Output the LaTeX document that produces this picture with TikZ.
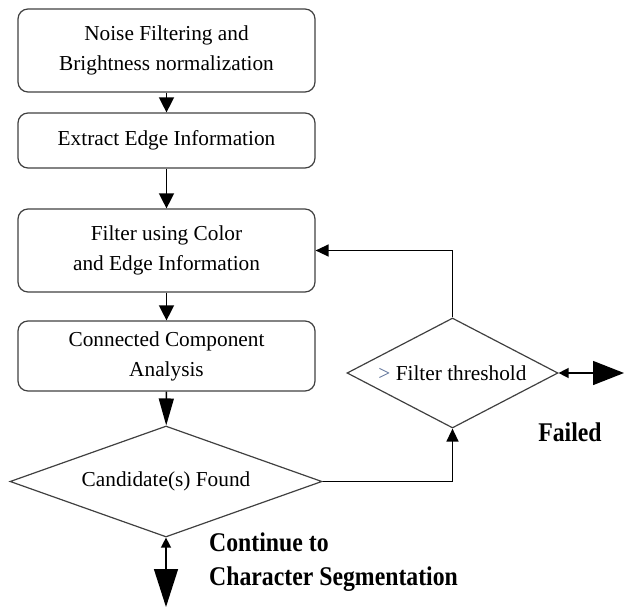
\documentclass[tikz,border=0pt]{standalone}
\usepackage{fontspec}
\setmainfont{Liberation Serif}
\newfontfamily\notefont[FakeStretch=0.88]{Liberation Serif}
\usetikzlibrary{arrows.meta,shapes.geometric,calc}

\tikzset{
  procbox/.style={draw=black!75, line width=1.2pt, rounded corners=10pt,
    minimum width=297pt, inner sep=0pt, align=center,
    font=\fontsize{21.3}{30}\selectfont},
  decision/.style={diamond, draw=black!75, line width=1.2pt, inner sep=0pt,
    font=\fontsize{21.3}{30}\selectfont},
  flow/.style={line width=1.4pt, -{Triangle[length=15pt,width=15pt]}},
  flowsmall/.style={line width=1.4pt, -{Triangle[length=13pt,width=12pt]}},
  flowbig/.style={line width=1.4pt, -{Triangle[length=27pt,width=15pt]}},
  notelabel/.style={inner sep=0pt, font=\notefont\bfseries\fontsize{27}{33}\selectfont},
}

\begin{document}
\begin{tikzpicture}[x=1pt,y=-1pt]
  \useasboundingbox (0,0) rectangle (624,607);

  % processing steps
  \node[procbox, minimum height=83pt] (b1) at (166.5,50.5)
    {Noise Filtering and\\Brightness normalization};
  \node[procbox, minimum height=55pt] (b2) at (166.5,140.5)
    {Extract Edge Information};
  \node[procbox, minimum height=83pt] (b3) at (166.5,250.5)
    {Filter using Color\\and Edge Information};
  \node[procbox, minimum height=70pt] (b4) at (166.5,356)
    {Connected Component\\Analysis};

  % decisions
  \node[decision, aspect=2.8, minimum width=312pt, minimum height=111pt]
    (d1) at (166,481.5) {Candidate(s) Found};
  \node[decision, aspect=1.9, minimum width=211pt, minimum height=110pt]
    (d2) at (452.5,373) {\textcolor[RGB]{90,110,150}{>}\ Filter threshold};

  % main flow
  \draw[flow] (b1) -- (b2);
  \draw[flow] (b2) -- (b3);
  \draw[flow] (b3) -- (b4);
  \draw[flowbig] (b4) -- (d1);

  % retry loop
  \draw[flowsmall] (d1.east) -| (d2.south);
  \draw[flowsmall] (d2.north) |- (b3.east);

  % exits
  \coordinate (failend) at (624,373);
  \coordinate (contend) at (166,607);
  \draw[line width=1.4pt,
    {Triangle[length=10pt,width=10pt]}-{Triangle[length=31pt,width=24pt]}]
    (d2.east) -- (failend);
  \draw[line width=1.4pt,
    {Triangle[length=10pt,width=10pt]}-{Triangle[length=38pt,width=24pt]}]
    (d1.south) -- (contend);

  % exit labels
  \node[notelabel, anchor=base] (failed) at (570,441.7) {Failed};
  \node[notelabel, anchor=base west] (cont1) at (209,551.7) {Continue to};
  \node[notelabel, anchor=base west] (cont2) at (209,585.5) {Character Segmentation};
\end{tikzpicture}
\end{document}
